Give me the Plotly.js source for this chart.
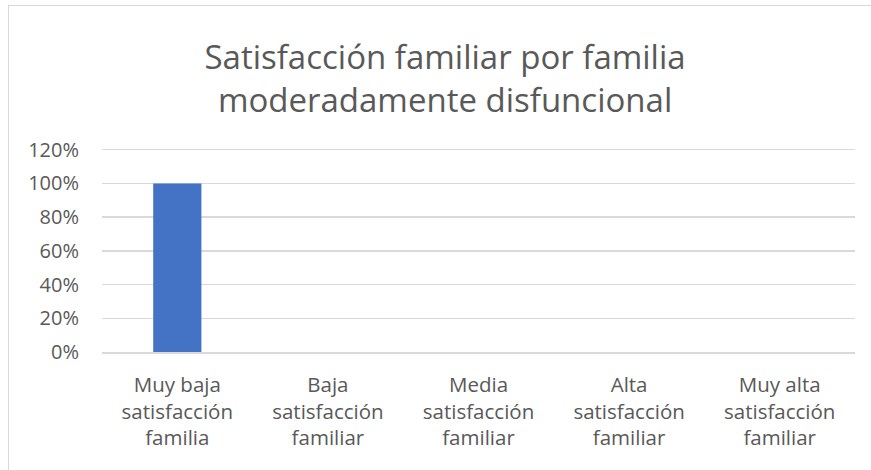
<!DOCTYPE html>
<html>
<head>
<meta charset="utf-8">
<script src="https://cdn.plot.ly/plotly-3.0.1.min.js"></script>
<style>
html, body { margin: 0; padding: 0; background: #ffffff; }
#frame { position: absolute; left: 8px; top: 5px; width: 880px; height: 480px; border-top: 1.5px solid #d9d9d9; border-left: 1.5px solid #d9d9d9; box-sizing: border-box; pointer-events: none; }
#chart { position: absolute; left: 0; top: 0; width: 871px; height: 470px; }
</style>
</head>
<body>
<div id="chart"></div>
<div id="frame"></div>
<script>
var chartTitle = "Satisfacción familiar por familia<br>moderadamente disfuncional";
var categories = [
  "Muy baja<br>satisfacción<br>familia",
  "Baja<br>satisfacción<br>familiar",
  "Media<br>satisfacción<br>familiar",
  "Alta<br>satisfacción<br>familiar",
  "Muy alta<br>satisfacción<br>familiar"
];
var values = [1.0, 0, 0, 0, 0];
var yTickValues = [0, 0.2, 0.4, 0.6, 0.8, 1.0, 1.2];

var textColor = "#595959";
var fontFam = "'Open Sans', 'Noto Sans', sans-serif";

var data = [{
  type: "bar",
  x: categories,
  y: values,
  marker: { color: "#4472c4" },
  hoverinfo: "x+y"
}];

var layout = {
  width: 871,
  height: 470,
  margin: { l: 102, r: 16, t: 148, b: 118 },
  paper_bgcolor: "rgba(0,0,0,0)",
  plot_bgcolor: "rgba(0,0,0,0)",
  bargap: 0.68,
  showlegend: false,
  title: {
    text: chartTitle,
    font: { family: fontFam, size: 33, color: textColor },
    xref: "container",
    x: 0.511,
    xanchor: "center",
    yref: "container",
    y: 0.853,
    yanchor: "top"
  },
  xaxis: {
    type: "category",
    tickfont: { family: fontFam, size: 20.5, color: textColor },
    showgrid: false,
    showline: true,
    linecolor: "#d9d9d9",
    linewidth: 1.5,
    ticks: "",
    ticklabelstandoff: 14,
    fixedrange: true
  },
  yaxis: {
    range: [0, 1.21],
    tickvals: yTickValues,
    tickformat: ".0%",
    tickfont: { family: fontFam, size: 20, color: textColor },
    showgrid: true,
    gridcolor: "#d9d9d9",
    gridwidth: 1.5,
    zeroline: false,
    showline: false,
    ticks: "",
    ticklabelstandoff: 22,
    fixedrange: true
  }
};

Plotly.newPlot("chart", data, layout, { displayModeBar: false, staticPlot: true });
</script>
</body>
</html>
